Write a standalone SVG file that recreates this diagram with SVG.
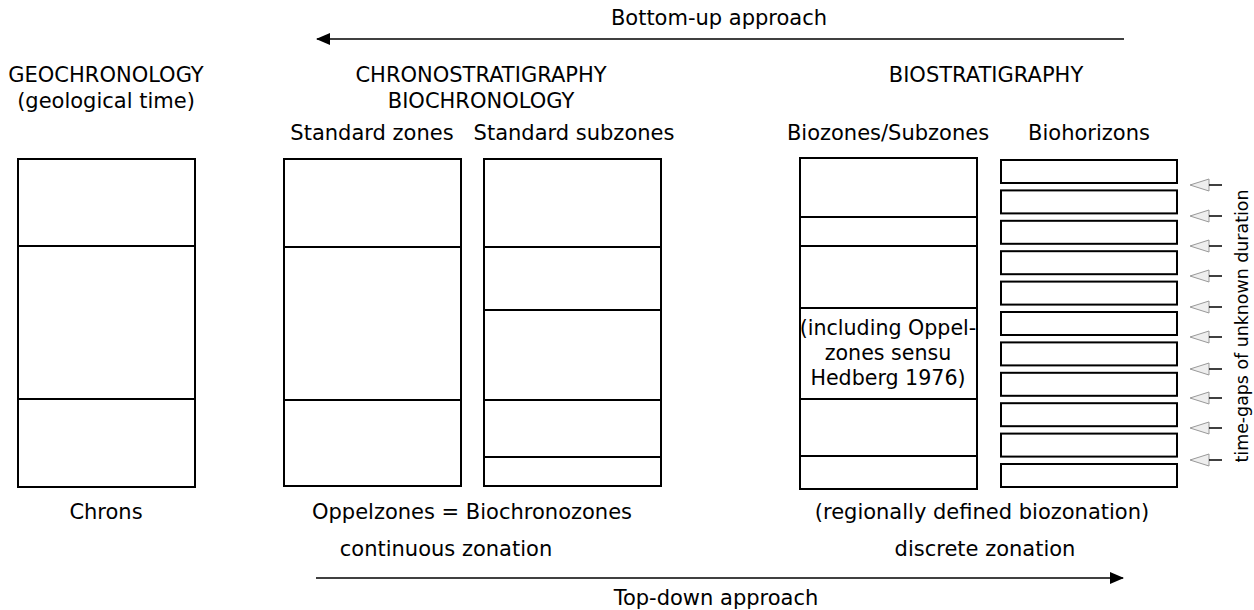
<svg xmlns="http://www.w3.org/2000/svg" width="1254" height="610" viewBox="0 0 1254 610">
<style>
text{font-family:"DejaVu Sans",Verdana,sans-serif;font-size:21px;fill:#000;text-anchor:middle}
.inner{font-size:20.6px}
.vert{font-size:17.4px}
.box{fill:#fff;stroke:#000;stroke-width:2}
.div{stroke:#000;stroke-width:2}
.conn{stroke:#000;stroke-width:1.5;fill:none}
.gap{fill:#eee;stroke:#999;stroke-width:1}
.tick{stroke:#000;stroke-width:1.5}
</style>
<defs>
<marker id="ah" viewBox="0 0 14 12" refX="13" refY="6" markerWidth="14" markerHeight="12" markerUnits="userSpaceOnUse" orient="auto-start-reverse">
<path d="M0,0 L14,6 L0,12 Z" fill="#000"/>
</marker>
</defs>
<rect width="1254" height="610" fill="#fff"/>

<g id="headers">
<text x="106" y="82">GEOCHRONOLOGY</text>
<text x="106" y="108">(geological time)</text>
<text x="481" y="82">CHRONOSTRATIGRAPHY</text>
<text x="481" y="108">BIOCHRONOLOGY</text>
<text x="986" y="82">BIOSTRATIGRAPHY</text>
<text x="372" y="140">Standard zones</text>
<text x="574" y="140">Standard subzones</text>
<text x="888" y="140">Biozones/Subzones</text>
<text x="1089" y="140">Biohorizons</text>
</g>

<g id="chrons">
<rect class="box" x="18" y="159" width="177" height="328"/>
<line class="div" x1="18" y1="246" x2="195" y2="246"/>
<line class="div" x1="18" y1="399" x2="195" y2="399"/>
<text x="106" y="519">Chrons</text>
</g>

<g id="standard-zones">
<rect class="box" x="284" y="159" width="177" height="327"/>
<line class="div" x1="284" y1="247" x2="461" y2="247"/>
<line class="div" x1="284" y1="400" x2="461" y2="400"/>
</g>

<g id="standard-subzones">
<rect class="box" x="484" y="159" width="177" height="327"/>
<line class="div" x1="484" y1="247" x2="661" y2="247"/>
<line class="div" x1="484" y1="310" x2="661" y2="310"/>
<line class="div" x1="484" y1="400" x2="661" y2="400"/>
<line class="div" x1="484" y1="457" x2="661" y2="457"/>
</g>

<g id="biozones">
<rect class="box" x="800" y="158" width="177" height="331"/>
<line class="div" x1="800" y1="217" x2="977" y2="217"/>
<line class="div" x1="800" y1="246" x2="977" y2="246"/>
<line class="div" x1="800" y1="308" x2="977" y2="308"/>
<line class="div" x1="800" y1="399" x2="977" y2="399"/>
<line class="div" x1="800" y1="456" x2="977" y2="456"/>
<text class="inner" x="888" y="335">(including Oppel-</text>
<text class="inner" x="888" y="360">zones sensu</text>
<text class="inner" x="888" y="385">Hedberg 1976)</text>
</g>

<g id="biohorizons">
<rect class="box" x="1001" y="160" width="176" height="23"/>
<rect class="box" x="1001" y="190.4" width="176" height="23"/>
<rect class="box" x="1001" y="220.8" width="176" height="23"/>
<rect class="box" x="1001" y="251.2" width="176" height="23"/>
<rect class="box" x="1001" y="281.6" width="176" height="23"/>
<rect class="box" x="1001" y="312" width="176" height="23"/>
<rect class="box" x="1001" y="342.4" width="176" height="23"/>
<rect class="box" x="1001" y="372.8" width="176" height="23"/>
<rect class="box" x="1001" y="403.2" width="176" height="23"/>
<rect class="box" x="1001" y="433.6" width="176" height="23"/>
<rect class="box" x="1001" y="464" width="176" height="23"/>
</g>

<g id="time-gaps">
<g transform="translate(0,185)"><path class="gap" d="M1190,0 L1209,-6 L1209,6 Z"/><line class="tick" x1="1209" y1="0" x2="1222" y2="0"/></g>
<g transform="translate(0,216)"><path class="gap" d="M1190,0 L1209,-6 L1209,6 Z"/><line class="tick" x1="1209" y1="0" x2="1222" y2="0"/></g>
<g transform="translate(0,246)"><path class="gap" d="M1190,0 L1209,-6 L1209,6 Z"/><line class="tick" x1="1209" y1="0" x2="1222" y2="0"/></g>
<g transform="translate(0,276)"><path class="gap" d="M1190,0 L1209,-6 L1209,6 Z"/><line class="tick" x1="1209" y1="0" x2="1222" y2="0"/></g>
<g transform="translate(0,307)"><path class="gap" d="M1190,0 L1209,-6 L1209,6 Z"/><line class="tick" x1="1209" y1="0" x2="1222" y2="0"/></g>
<g transform="translate(0,337)"><path class="gap" d="M1190,0 L1209,-6 L1209,6 Z"/><line class="tick" x1="1209" y1="0" x2="1222" y2="0"/></g>
<g transform="translate(0,369)"><path class="gap" d="M1190,0 L1209,-6 L1209,6 Z"/><line class="tick" x1="1209" y1="0" x2="1222" y2="0"/></g>
<g transform="translate(0,398)"><path class="gap" d="M1190,0 L1209,-6 L1209,6 Z"/><line class="tick" x1="1209" y1="0" x2="1222" y2="0"/></g>
<g transform="translate(0,428)"><path class="gap" d="M1190,0 L1209,-6 L1209,6 Z"/><line class="tick" x1="1209" y1="0" x2="1222" y2="0"/></g>
<g transform="translate(0,460)"><path class="gap" d="M1190,0 L1209,-6 L1209,6 Z"/><line class="tick" x1="1209" y1="0" x2="1222" y2="0"/></g>
<text class="vert" transform="translate(1248,326) rotate(-90)">time-gaps of unknown duration</text>
</g>

<g id="footers">
<text x="472" y="519">Oppelzones = Biochronozones</text>
<text x="982" y="519">(regionally defined biozonation)</text>
<text x="446" y="556">continuous zonation</text>
<text x="985" y="556">discrete zonation</text>
<text x="719" y="25">Bottom-up approach</text>
<text x="716" y="605">Top-down approach</text>
</g>

<g id="connectors">
<line class="conn" x1="1124" y1="39" x2="317" y2="39" marker-end="url(#ah)"/>
<line class="conn" x1="316" y1="578" x2="1123" y2="578" marker-end="url(#ah)"/>
</g>
</svg>
